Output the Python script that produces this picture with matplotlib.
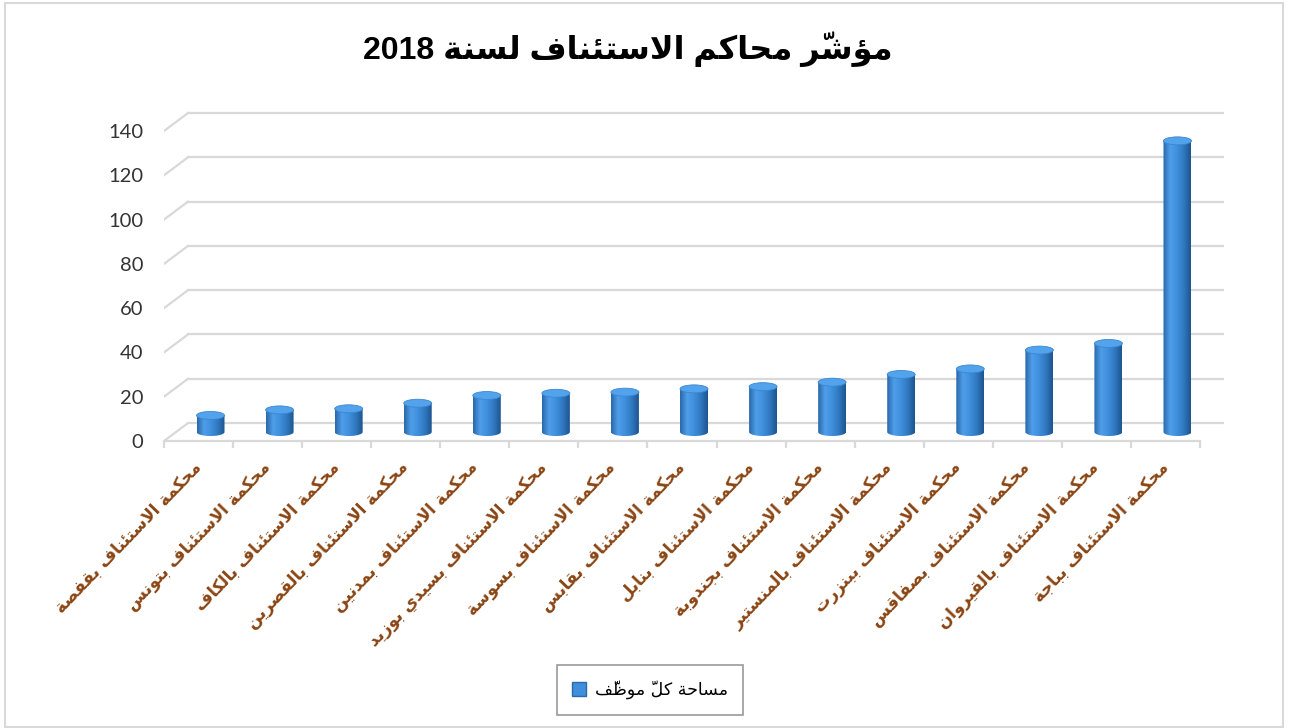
import numpy as np
import matplotlib
matplotlib.use('Agg')
import matplotlib.pyplot as plt
from matplotlib.patches import Polygon, Ellipse, Patch, Rectangle
from matplotlib.colors import LinearSegmentedColormap

title = 'مؤشّر محاكم الاستئناف لسنة 2018'
series_name = 'مساحة كلّ موظّف'
courts = [
    'محكمة الاستئناف بقفصة',
    'محكمة الاستئناف بتونس',
    'محكمة الاستئناف بالكاف',
    'محكمة الاستئناف بالقصرين',
    'محكمة الاستئناف بمدنين',
    'محكمة الاستئناف بسيدي بوزيد',
    'محكمة الاستئناف بسوسة',
    'محكمة الاستئناف بقابس',
    'محكمة الاستئناف بنابل',
    'محكمة الاستئناف بجندوبة',
    'محكمة الاستئناف بالمنستير',
    'محكمة الاستئناف ببنزرت',
    'محكمة الاستئناف بصفاقس',
    'محكمة الاستئناف بالقيروان',
    'محكمة الاستئناف بباجة',
]
values = [7.5, 10, 10.5, 13, 16.5, 17.5, 18, 19.5, 20.5, 22.5, 26, 28.5, 37, 40, 131.5]
yticks = [0, 20, 40, 60, 80, 100, 120, 140]

# --- minimal arabic shaping (matplotlib has no shaping engine) ---
FORMS = {
    'ء': (0xFE80, 1), 'آ': (0xFE81, 2), 'أ': (0xFE83, 2), 'ؤ': (0xFE85, 2), 'إ': (0xFE87, 2),
    'ئ': (0xFE89, 4), 'ا': (0xFE8D, 2), 'ب': (0xFE8F, 4), 'ة': (0xFE93, 2), 'ت': (0xFE95, 4),
    'ث': (0xFE99, 4), 'ج': (0xFE9D, 4), 'ح': (0xFEA1, 4), 'خ': (0xFEA5, 4), 'د': (0xFEA9, 2),
    'ذ': (0xFEAB, 2), 'ر': (0xFEAD, 2), 'ز': (0xFEAF, 2), 'س': (0xFEB1, 4), 'ش': (0xFEB5, 4),
    'ص': (0xFEB9, 4), 'ض': (0xFEBD, 4), 'ط': (0xFEC1, 4), 'ظ': (0xFEC5, 4), 'ع': (0xFEC9, 4),
    'غ': (0xFECD, 4), 'ف': (0xFED1, 4), 'ق': (0xFED5, 4), 'ك': (0xFED9, 4), 'ل': (0xFEDD, 4),
    'م': (0xFEE1, 4), 'ن': (0xFEE5, 4), 'ه': (0xFEE9, 4), 'و': (0xFEED, 2), 'ى': (0xFEEF, 2),
    'ي': (0xFEF1, 4),
}
LAM_ALEF = {'آ': 0xFEF5, 'أ': 0xFEF7, 'إ': 0xFEF9, 'ا': 0xFEFB}
MARKS = set('\u064b\u064c\u064d\u064e\u064f\u0650\u0651\u0652')


def shape(text):
    cl = []
    for ch in text:
        if ch in MARKS and cl:
            cl[-1][1] += ch
        else:
            cl.append([ch, ''])
    out = []
    i = 0
    n = len(cl)
    while i < n:
        ch, marks = cl[i]
        if ch not in FORMS:
            out.append((ch, marks))
            i += 1
            continue
        base, nf = FORMS[ch]
        prev = i > 0 and cl[i - 1][0] in FORMS and FORMS[cl[i - 1][0]][1] == 4 and nf > 1
        if ch == 'ل' and i + 1 < n and cl[i + 1][0] in LAM_ALEF:
            out.append((chr(LAM_ALEF[cl[i + 1][0]] + (1 if prev else 0)), marks + cl[i + 1][1]))
            i += 2
            continue
        nxt = nf == 4 and i + 1 < n and cl[i + 1][0] in FORMS and FORMS[cl[i + 1][0]][1] > 1
        if nf == 1:
            form = 0
        elif prev and nxt:
            form = 3
        elif prev:
            form = 1
        elif nxt:
            form = 2
        else:
            form = 0
        out.append((chr(base + form), marks))
        i += 1
    out = out[::-1]
    # put ltr runs (digits) back in order
    res = []
    run = []
    for c in out:
        if c[0].isascii() and c[0] != ' ':
            run.append(c)
        else:
            res += run[::-1]
            run = []
            res.append(c)
    res += run[::-1]
    # marks go before their base so they land on it when drawn left to right
    return ''.join(m + b for b, m in res)


AR = ['DejaVu Sans']
plt.rcParams['font.family'] = ['Liberation Sans', 'DejaVu Sans']

fig = plt.figure(figsize=(12.92, 7.28), dpi=100)
W, H = 1292, 728
ax = fig.add_axes([164 / W, (H - 441) / H, (1224 - 164) / W, (441 - 100) / H])

n = len(values)
dx = 0.347   # depth offset in category units
dy = 8.1     # depth offset in value units
grid_c = '#d9d9d9'

# back wall gridlines + side wall diagonals
for t in yticks:
    ax.plot([-0.5 + dx, n - 0.5 + dx], [t + dy, t + dy], color=grid_c, lw=1.6, zorder=1)
    ax.plot([-0.5, -0.5 + dx], [t, t + dy], color=grid_c, lw=1.6, zorder=1)

# cylinders
cmap = LinearSegmentedColormap.from_list('cyl', ['#2a68ab', '#4f9eea', '#3f8fdc', '#3078c0', '#1d558f'])
grad = np.linspace(0, 1, 64)[np.newaxis, :]
w = 0.405
eh = 3.6
th = np.linspace(np.pi, 2 * np.pi, 40)
for i, v in enumerate(values):
    xc = i + dx / 2
    y0 = dy / 2
    y1 = v + dy / 2
    bottom = np.column_stack([xc + w / 2 * np.cos(th), y0 + eh / 2 * np.sin(th)])
    pts = np.vstack([[xc - w / 2, y1], bottom, [xc + w / 2, y1]])
    body = Polygon(pts, closed=True, facecolor='none', edgecolor='none')
    ax.add_patch(body)
    im = ax.imshow(grad, cmap=cmap, aspect='auto', extent=[xc - w / 2, xc + w / 2, y0 - eh, y1],
                   zorder=3, interpolation='bilinear')
    im.set_clip_path(body)
    ax.add_patch(Ellipse((xc, y1), w, eh, facecolor='#52a3ec', edgecolor='#3a86d0', lw=0.6, zorder=4))

ax.set_xlim(-0.5, n - 0.5 + dx)
ax.set_ylim(0, 154)

for s in ['top', 'right', 'left']:
    ax.spines[s].set_visible(False)
ax.spines['bottom'].set_color(grid_c)
ax.spines['bottom'].set_linewidth(1.6)
ax.spines['bottom'].set_bounds(-0.5, n - 0.5)

ax.set_xticks(np.arange(n))
ax.set_xticks(np.arange(n + 1) - 0.5, minor=True)
ax.tick_params(axis='x', which='major', length=0, pad=17)
ax.tick_params(axis='x', which='minor', length=5, width=1.6, color=grid_c)
ax.set_xticklabels([shape(c) for c in courts], rotation=46, ha='right', va='center',
                   rotation_mode='anchor', fontsize=12, fontweight='bold', color='#8a4614',
                   family=AR)

ax.set_yticks(yticks)
ax.set_yticklabels([str(t) for t in yticks], family=['Lato', 'DejaVu Sans'], fontsize=14.5,
                   color='#333333')
ax.tick_params(axis='y', length=0, pad=15)

fig.text(628 / W, 1 - 49 / H, shape(title), ha='center', va='center', fontsize=23,
         fontweight='bold', color='black')

leg = fig.legend(handles=[Patch(facecolor='#3f8fdc', edgecolor='#2a6aa8')], labels=[shape(series_name)],
                 loc='center', bbox_to_anchor=(650 / W, 1 - 690 / H), frameon=True, fancybox=False,
                 edgecolor='#808080', handlelength=0.8, handleheight=0.8, handletextpad=0.5,
                 borderpad=0.9, prop={'family': AR, 'size': 12.5})
leg.get_frame().set_linewidth(1.2)

fig.patches.append(Rectangle((5 / W, 1 / H), (1283 - 5) / W, (725 - 1) / H, transform=fig.transFigure,
                             fill=False, edgecolor='#d9d9d9', lw=1.5))

fig.savefig('out.png', dpi=100)
